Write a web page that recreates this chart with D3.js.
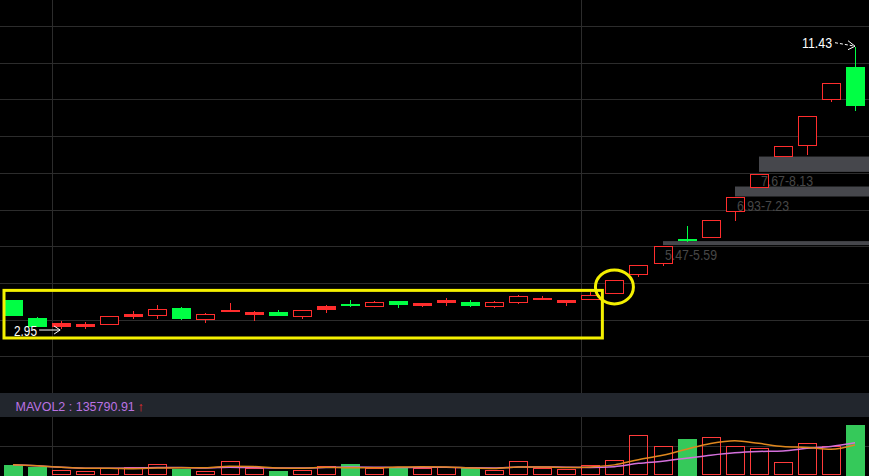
<!DOCTYPE html>
<html><head><meta charset="utf-8">
<script src="https://cdn.jsdelivr.net/npm/d3@7"></script>
<style>html,body{margin:0;padding:0;background:#000;overflow:hidden}svg{display:block}</style>
</head><body>
<svg id="c" width="869" height="476"></svg>
<script>
// ---- data ----
const opens  = [3.82,3.28,3.03,3.03,3.09,3.35,3.36,3.58,3.24,3.49,3.41,3.46,3.32,3.56,3.70,3.65,3.79,3.66,3.77,3.76,3.65,3.77,3.85,3.76,3.84,4.02,4.61,4.92,5.65,5.70,6.50,7.22,8.13,8.46,9.84,10.82];
const highs  = [3.82,3.32,3.19,3.16,3.34,3.49,3.68,3.61,3.44,3.73,3.49,3.52,3.51,3.67,3.82,3.79,3.79,3.73,3.88,3.82,3.79,3.97,3.94,3.82,4.05,4.41,4.88,5.43,6.04,6.22,6.91,7.62,8.44,9.34,10.33,11.43];
const lows   = [3.35,3.02,2.95,2.96,3.09,3.25,3.24,3.23,3.14,3.47,3.20,3.35,3.26,3.44,3.62,3.60,3.59,3.60,3.65,3.62,3.59,3.71,3.82,3.65,3.84,4.02,4.52,4.84,5.56,5.70,6.20,7.22,8.13,8.19,9.77,9.51];
const closes = [3.35,3.02,3.12,3.10,3.34,3.41,3.55,3.25,3.40,3.51,3.46,3.35,3.51,3.64,3.64,3.76,3.68,3.73,3.82,3.65,3.76,3.94,3.88,3.82,3.96,4.41,4.88,5.43,5.64,6.22,6.91,7.62,8.44,9.34,10.33,9.66];
const volumes = [43600,33900,21200,16900,28400,33900,46600,26700,16900,59300,28400,16900,21200,36900,47900,30900,29700,28400,32600,28400,19900,58000,28400,24100,41100,62300,168200,121600,152500,159700,121600,113100,53800,134300,121600,211509];
const zoneLows   = [5.47, 6.93, 7.67];
const zoneHighs  = [5.59, 7.23, 8.13];
const zoneStarts = [27, 30, 31];
const zoneLabels = ["5.47-5.59", "6.93-7.23", "7.67-8.13"];
const lowLabel = "2.95", lowIndex = 2;
const highLabel = "11.43", highIndex = 35;
const mavolLabel = "MAVOL2 : 135790.91";
const boxFrom = 0, boxTo = 24, boxTopPrice = 4.11, boxBottomPrice = 2.68;
const circleIndex = 25;

// ---- layout ----
const W = 869, H = 476;
const svg = d3.select("#c");
const RED = "#ff2d2d", GREEN = "#00ff44", VGREEN = "#35c95a", GRID = "#2c2c2c";
const font = "'Liberation Sans', Arial, sans-serif";

const x = d3.scaleLinear().domain([0, 35]).range([13, 855]);
const y = d3.scaleLinear().domain([2.95, 11.43]).range([329, 46.7]);
const vy = d3.scaleLinear().domain([0, 245000]).range([475, 417]);

svg.append("rect").attr("width", W).attr("height", H).attr("fill", "#000");

// grid
const g = svg.append("g").attr("shape-rendering", "crispEdges");
for (let k = 0; k < 10; k++) {
  const yy = Math.round(26 + k * 36.7) + 0.5;
  g.append("line").attr("x1", 0).attr("x2", W).attr("y1", yy).attr("y2", yy).attr("stroke", GRID);
}
[2, 24].forEach(i => {
  const xx = Math.round(x(i) - 9.5) + 0.5;
  g.append("line").attr("x1", xx).attr("x2", xx).attr("y1", 0).attr("y2", 393).attr("stroke", GRID);
  g.append("line").attr("x1", xx).attr("x2", xx).attr("y1", 417).attr("y2", H).attr("stroke", GRID);
});
g.append("line").attr("x1", 0).attr("x2", W).attr("y1", 446.5).attr("y2", 446.5).attr("stroke", GRID);

// header band of volume panel
svg.append("rect").attr("x", 0).attr("y", 393).attr("width", W).attr("height", 24).attr("fill", "#22262d");

// zones
zoneLows.forEach((lo, k) => {
  const x0 = Math.round(x(zoneStarts[k]));
  svg.append("rect").attr("x", x0).attr("y", y(zoneHighs[k])).attr("width", W - x0)
    .attr("height", Math.max(3, y(lo) - y(zoneHighs[k]))).attr("fill", "#46474c");
});

// candles
const cg = svg.append("g").attr("shape-rendering", "crispEdges");
opens.forEach((o, i) => {
  const c = closes[i], hi = highs[i], lo = lows[i];
  const cx = Math.round(x(i));
  const up = c >= o;
  const col = up ? RED : GREEN;
  const top = y(Math.max(o, c)), bot = y(Math.min(o, c));
  if (y(hi) < top - 0.5)
    cg.append("line").attr("x1", cx + 0.5).attr("x2", cx + 0.5).attr("y1", y(hi)).attr("y2", top).attr("stroke", col);
  if (y(lo) > bot + 0.5)
    cg.append("line").attr("x1", cx + 0.5).attr("x2", cx + 0.5).attr("y1", bot).attr("y2", y(lo)).attr("stroke", col);
  const h = Math.max(1, bot - top);
  if (up) {
    if (h < 3) {
      cg.append("rect").attr("x", cx - 9).attr("y", Math.round(top)).attr("width", 19).attr("height", Math.max(2, Math.round(h) + 1)).attr("fill", col);
    } else {
      cg.append("rect").attr("x", cx - 8.5).attr("y", Math.round(top) + 0.5).attr("width", 18)
        .attr("height", Math.round(h)).attr("fill", "#000").attr("stroke", col);
    }
  } else {
    cg.append("rect").attr("x", cx - 9).attr("y", Math.round(top)).attr("width", 19)
      .attr("height", Math.max(2, Math.round(h))).attr("fill", col);
  }
});

// zone labels
zoneLabels.forEach((t, k) => {
  svg.append("text").attr("x", Math.round(x(zoneStarts[k])) + 2).attr("y", y(zoneLows[k]) + 14.5)
    .attr("font-family", font).attr("font-size", 15).attr("fill", "#474747")
    .attr("textLength", 52).attr("lengthAdjust", "spacingAndGlyphs").text(t);
});

// annotations
svg.append("rect").attr("x", x(boxFrom) - 9).attr("y", y(boxTopPrice))
  .attr("width", x(boxTo) + 12 - (x(boxFrom) - 9)).attr("height", y(boxBottomPrice) - y(boxTopPrice))
  .attr("fill", "none").attr("stroke", "#f4f000").attr("stroke-width", 3);
svg.append("ellipse").attr("cx", x(circleIndex)).attr("cy", y((opens[circleIndex] + closes[circleIndex]) / 2))
  .attr("rx", 19).attr("ry", 17).attr("fill", "none").attr("stroke", "#f4f000").attr("stroke-width", 3);

// low label + arrow
const lowX = x(lowIndex) - 1, lowY = y(lows[lowIndex]) + 1;
svg.append("text").attr("x", 14).attr("y", lowY + 5.5).attr("font-family", font).attr("font-size", 14)
  .attr("fill", "#fff").attr("textLength", 23).attr("lengthAdjust", "spacingAndGlyphs").text(lowLabel);
svg.append("path").attr("d", `M${lowX - 21},${lowY}L${lowX},${lowY}M${lowX - 6},${lowY - 4}L${lowX},${lowY}L${lowX - 6},${lowY + 4}`)
  .attr("stroke", "#fff").attr("fill", "none").attr("stroke-width", 1);

// high label + dashed arrow
const hx = x(highIndex), hy = y(highs[highIndex]);
svg.append("text").attr("x", hx - 53).attr("y", hy + 1).attr("font-family", font).attr("font-size", 14)
  .attr("fill", "#fff").attr("textLength", 30).attr("lengthAdjust", "spacingAndGlyphs").text(highLabel);
svg.append("path").attr("d", `M${hx - 20},${hy - 4}L${hx},${hy - 0.5}`)
  .attr("stroke", "#fff").attr("stroke-dasharray", "3,2").attr("fill", "none");
svg.append("path").attr("d", `M${hx - 7},${hy - 6}L${hx},${hy - 0.5}L${hx - 7},${hy + 3}`)
  .attr("stroke", "#fff").attr("fill", "none");

// volume bars
const vg = svg.append("g").attr("shape-rendering", "crispEdges");
volumes.forEach((v, i) => {
  const cx = Math.round(x(i));
  const up = closes[i] >= opens[i];
  const t = Math.round(vy(v));
  if (up) {
    vg.append("rect").attr("x", cx - 8.5).attr("y", t + 0.5).attr("width", 18).attr("height", 474 - t)
      .attr("fill", "none").attr("stroke", "#ff3b3b").attr("stroke-width", 1.3);
  } else {
    vg.append("rect").attr("x", cx - 9).attr("y", t).attr("width", 19).attr("height", 476 - t).attr("fill", VGREEN);
  }
});

// moving averages
function ma(n) {
  return volumes.map((v, i) => d3.mean(volumes.slice(Math.max(0, i - n + 1), i + 1)));
}
const line = d3.line().x((d, i) => x(i)).y(d => vy(d)).curve(d3.curveMonotoneX);
svg.append("path").attr("d", line(ma(10))).attr("fill", "none").attr("stroke", "#d470dc").attr("stroke-width", 1.5);
svg.append("path").attr("d", line(ma(5))).attr("fill", "none").attr("stroke", "#e0881e").attr("stroke-width", 1.5);

// header label
svg.append("text").attr("x", 15.5).attr("y", 410.5).attr("font-family", font).attr("font-size", 12.5)
  .attr("fill", "#bb72e2").text(mavolLabel);
svg.append("text").attr("x", 137.5).attr("y", 410.5).attr("font-family", font).attr("font-size", 13)
  .attr("font-weight", "bold").attr("fill", RED).text("↑");
</script>
</body></html>
